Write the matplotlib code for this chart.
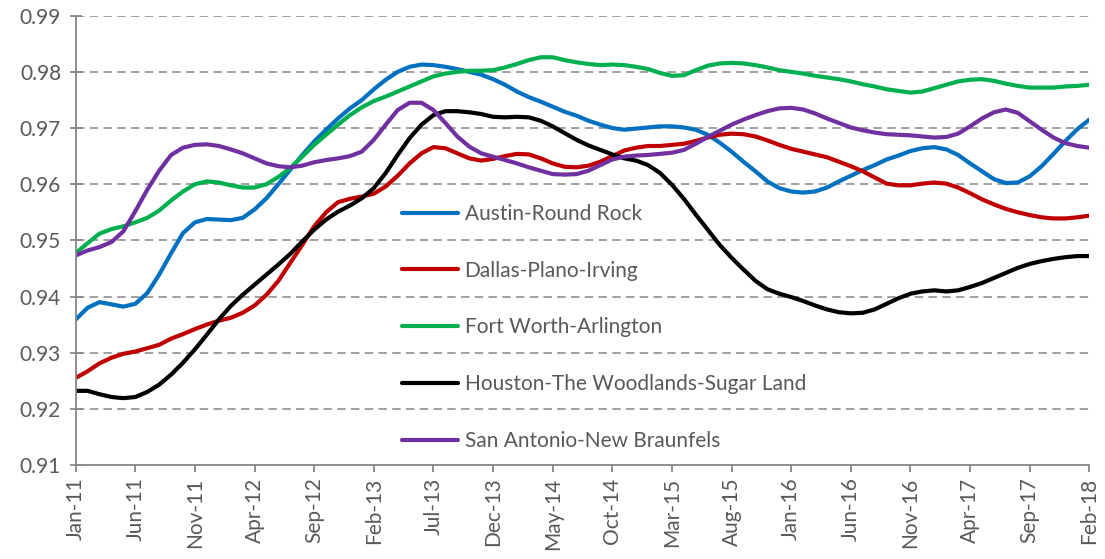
import matplotlib
matplotlib.use("Agg")
import matplotlib.pyplot as plt
import numpy as np

# --- data (monthly, Jan-11 .. Feb-18) ---------------------------------------

austin = [
    0.9359, 0.9380, 0.9390, 0.9386, 0.9382, 0.9387, 0.9406, 0.9439, 0.9477, 0.9513,
    0.9532, 0.9538, 0.9537, 0.9536, 0.9540, 0.9555, 0.9575, 0.9600, 0.9626, 0.9652,
    0.9676, 0.9697, 0.9717, 0.9735, 0.9750, 0.9769, 0.9786, 0.9800, 0.9809, 0.9813,
    0.9812, 0.9809, 0.9805, 0.9800, 0.9795, 0.9787, 0.9777, 0.9765, 0.9755, 0.9747,
    0.9738, 0.9729, 0.9722, 0.9713, 0.9706, 0.9700, 0.9697, 0.9699, 0.9701, 0.9703,
    0.9703, 0.9701, 0.9697, 0.9688, 0.9674, 0.9658, 0.9640, 0.9623, 0.9605, 0.9593,
    0.9587, 0.9585, 0.9587, 0.9594, 0.9605, 0.9615, 0.9625, 0.9634, 0.9644, 0.9651,
    0.9659, 0.9664, 0.9666, 0.9662, 0.9652, 0.9637, 0.9623, 0.9609, 0.9602, 0.9603,
    0.9614, 0.9632, 0.9654, 0.9677, 0.9698, 0.9715,
]
dallas = [
    0.9255, 0.9267, 0.9281, 0.9291, 0.9298, 0.9302, 0.9308, 0.9314, 0.9325, 0.9333,
    0.9342, 0.9350, 0.9357, 0.9362, 0.9371, 0.9384, 0.9403, 0.9428, 0.9460, 0.9492,
    0.9525, 0.9550, 0.9568, 0.9574, 0.9578, 0.9583, 0.9596, 0.9615, 0.9637, 0.9655,
    0.9666, 0.9664, 0.9655, 0.9646, 0.9642, 0.9645, 0.9650, 0.9654, 0.9653, 0.9646,
    0.9637, 0.9631, 0.9630, 0.9633, 0.9640, 0.9650, 0.9660, 0.9665, 0.9668, 0.9668,
    0.9670, 0.9672, 0.9677, 0.9683, 0.9688, 0.9690, 0.9689, 0.9685, 0.9678, 0.9670,
    0.9663, 0.9658, 0.9653, 0.9648, 0.9640, 0.9632, 0.9623, 0.9612, 0.9601, 0.9598,
    0.9598, 0.9601, 0.9603, 0.9601, 0.9594, 0.9584, 0.9573, 0.9564, 0.9556, 0.9550,
    0.9545, 0.9541, 0.9539, 0.9539, 0.9541, 0.9544,
]
fort_worth = [
    0.9477, 0.9495, 0.9512, 0.9520, 0.9525, 0.9532, 0.9540, 0.9553, 0.9571, 0.9587,
    0.9600, 0.9605, 0.9603, 0.9598, 0.9594, 0.9594, 0.9600, 0.9613, 0.9629, 0.9649,
    0.9670, 0.9688, 0.9706, 0.9723, 0.9737, 0.9748, 0.9756, 0.9765, 0.9774, 0.9783,
    0.9792, 0.9797, 0.9800, 0.9802, 0.9802, 0.9803, 0.9808, 0.9814, 0.9821, 0.9826,
    0.9826, 0.9821, 0.9817, 0.9814, 0.9812, 0.9813, 0.9812, 0.9809, 0.9805, 0.9798,
    0.9793, 0.9794, 0.9803, 0.9811, 0.9815, 0.9816, 0.9815, 0.9812, 0.9808, 0.9803,
    0.9800, 0.9797, 0.9793, 0.9790, 0.9787, 0.9783, 0.9778, 0.9774, 0.9769, 0.9766,
    0.9763, 0.9765, 0.9771, 0.9777, 0.9783, 0.9786, 0.9787, 0.9784, 0.9779, 0.9775,
    0.9772, 0.9772, 0.9772, 0.9774, 0.9775, 0.9777,
]
houston = [
    0.9232, 0.9232, 0.9226, 0.9221, 0.9219, 0.9221, 0.9230, 0.9243, 0.9261, 0.9282,
    0.9306, 0.9332, 0.9359, 0.9383, 0.9403, 0.9421, 0.9439, 0.9457, 0.9476, 0.9498,
    0.9519, 0.9537, 0.9551, 0.9562, 0.9575, 0.9593, 0.9620, 0.9652, 0.9682, 0.9706,
    0.9723, 0.9730, 0.9730, 0.9728, 0.9725, 0.9720, 0.9719, 0.9720, 0.9719, 0.9713,
    0.9703, 0.9691, 0.9679, 0.9669, 0.9661, 0.9653, 0.9646, 0.9642, 0.9634, 0.9620,
    0.9599, 0.9574, 0.9546, 0.9519, 0.9492, 0.9469, 0.9448, 0.9428, 0.9413, 0.9405,
    0.9399, 0.9392, 0.9384, 0.9377, 0.9372, 0.9370, 0.9371, 0.9377, 0.9387, 0.9397,
    0.9405, 0.9409, 0.9411, 0.9409, 0.9411, 0.9417, 0.9424, 0.9433, 0.9442, 0.9451,
    0.9458, 0.9463, 0.9467, 0.9470, 0.9472, 0.9472,
]
san_antonio = [
    0.9473, 0.9482, 0.9488, 0.9497, 0.9516, 0.9552, 0.9590, 0.9624, 0.9652, 0.9665,
    0.9670, 0.9671, 0.9668, 0.9662, 0.9655, 0.9646, 0.9637, 0.9632, 0.9630, 0.9633,
    0.9639, 0.9643, 0.9646, 0.9650, 0.9658, 0.9679, 0.9706, 0.9732, 0.9745, 0.9745,
    0.9732, 0.9709, 0.9685, 0.9667, 0.9655, 0.9649, 0.9643, 0.9637, 0.9630, 0.9624,
    0.9618, 0.9617, 0.9618, 0.9624, 0.9634, 0.9644, 0.9649, 0.9651, 0.9652, 0.9654,
    0.9656, 0.9661, 0.9672, 0.9684, 0.9695, 0.9706, 0.9715, 0.9723, 0.9730, 0.9735,
    0.9736, 0.9733, 0.9726, 0.9717, 0.9709, 0.9701, 0.9696, 0.9692, 0.9689, 0.9688,
    0.9687, 0.9685, 0.9683, 0.9684, 0.9690, 0.9703, 0.9717, 0.9728, 0.9733, 0.9727,
    0.9712, 0.9697, 0.9683, 0.9673, 0.9668, 0.9665,
]

series_names = [
    "Austin-Round Rock",
    "Dallas-Plano-Irving",
    "Fort Worth-Arlington",
    "Houston-The Woodlands-Sugar Land",
    "San Antonio-New Braunfels",
]
series_colors = ["#0070C0", "#C00000", "#00B050", "#000000", "#7030A0"]

tick_labels = [
    "Jan-11", "Jun-11", "Nov-11", "Apr-12", "Sep-12", "Feb-13", "Jul-13", "Dec-13",
    "May-14", "Oct-14", "Mar-15", "Aug-15", "Jan-16", "Jun-16", "Nov-16", "Apr-17",
    "Sep-17", "Feb-18",
]

# --- style ------------------------------------------------------------------

TEXT = "#595959"
AXIS = "#868686"
plt.rcParams["font.family"] = ["Lato", "DejaVu Sans"]
plt.rcParams["font.size"] = 15

fig = plt.figure(figsize=(11.05, 5.59), dpi=100)
ax = fig.add_axes([0.0685, 0.1682, 0.9173, 0.8037])

months = np.arange(len(austin))
all_series = [austin, dallas, fort_worth, houston, san_antonio]

for vals, name, col in zip(all_series, series_names, series_colors):
    ax.plot(months, vals, color=col, lw=3, label=name, solid_capstyle="round")

ax.set_xlim(0, len(austin) - 1)
ax.set_ylim(0.91, 0.99)
ax.set_yticks(np.arange(0.91, 0.9901, 0.01))
ax.yaxis.set_major_formatter(matplotlib.ticker.FormatStrFormatter("%.2f"))
ax.set_xticks(months[::5])
ax.set_xticklabels(tick_labels, rotation=90)

# dashed horizontal gridlines
for v in np.arange(0.92, 0.9901, 0.01):
    ax.axhline(v, color=AXIS, lw=1.1, ls=(0, (5.5, 3.5)), zorder=0)

for side in ["top", "right"]:
    ax.spines[side].set_visible(False)
for side in ["left", "bottom"]:
    ax.spines[side].set_color(AXIS)
    ax.spines[side].set_linewidth(1.3)

ax.tick_params(axis="y", direction="inout", length=9, width=1.3, color=AXIS,
               labelcolor=TEXT, pad=6)
ax.tick_params(axis="x", direction="out", length=5, width=1.3, color=AXIS,
               labelcolor=TEXT, pad=4)

ax.legend(loc="upper left", bbox_to_anchor=(0.322, 0.581), frameon=False,
          handlelength=2.7, handletextpad=0.3, labelspacing=1.765,
          borderpad=0, borderaxespad=0, labelcolor=TEXT, fontsize=15)

fig.savefig("out.png", dpi=100)
